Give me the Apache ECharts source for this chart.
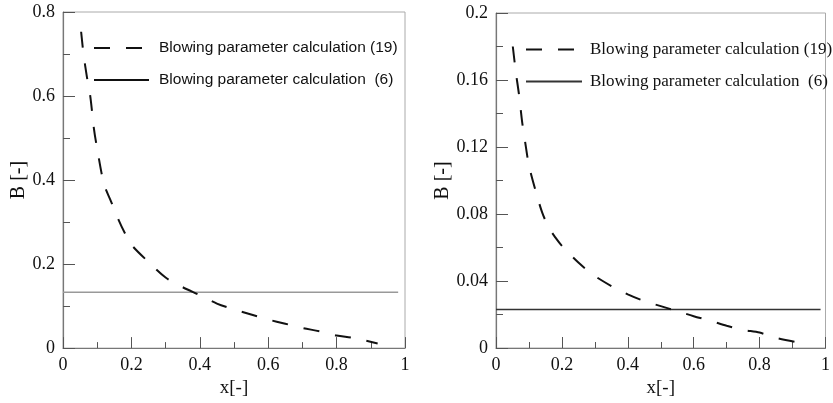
<!DOCTYPE html>
<html>
<head>
<meta charset="utf-8">
<script src="https://cdn.jsdelivr.net/npm/echarts@6/dist/echarts.min.js"></script>
<style>html,body{margin:0;padding:0;background:#fff;}#c{width:833px;height:403px;}</style>
</head>
<body>
<div id="c"></div>
<script>
// Left panel data
const leftX = [0.053,0.06,0.07,0.08,0.09,0.1,0.12,0.14,0.16,0.18,0.2,0.25,0.3,0.35,0.4,0.45,0.5,0.55,0.6,0.65,0.7,0.75,0.8,0.85,0.92];
const leftB19 = [0.753,0.70,0.645,0.598,0.525,0.474,0.39,0.35,0.31,0.275,0.246,0.205,0.168,0.145,0.126,0.106,0.092,0.08,0.068,0.058,0.048,0.04,0.03,0.024,0.011];
const leftLineX = [0, 0.98];
const leftB6 = [0.133, 0.133];
// Right panel data
const rightX = [0.051,0.06,0.07,0.08,0.09,0.1,0.12,0.14,0.16,0.18,0.2,0.25,0.3,0.35,0.4,0.45,0.5,0.55,0.6,0.65,0.7,0.75,0.8,0.85,0.94];
const rightB19 = [0.180,0.165,0.151,0.134,0.121,0.109,0.094,0.081,0.072,0.066,0.061,0.051,0.043,0.037,0.032,0.028,0.025,0.022,0.019,0.0163,0.0133,0.0108,0.0092,0.006,0.0025];
const rightLineX = [0, 0.985];
const rightB6 = [0.023, 0.023];
const legendNames = ['Blowing parameter calculation (19)', 'Blowing parameter calculation  (6)'];
const xTickLabels = ['0','0.2','0.4','0.6','0.8','1'];

const zip = (xs, ys) => xs.map((x, i) => [x, ys[i]]);
const serif = 'Liberation Serif';
const axisCol = '#777';

function xAxis(gi) {
  return {
    gridIndex: gi, type: 'value', min: 0, max: 1, interval: 0.2,
    name: 'x[-]', nameLocation: 'middle', nameGap: 27,
    nameTextStyle: {fontFamily: serif, fontSize: 19, color: '#111'},
    axisLine: {show: true, lineStyle: {color: axisCol, width: 1.2}},
    axisTick: {show: true, inside: true, length: 11, lineStyle: {color: '#555'}},
    minorTick: {show: true, splitNumber: 2, length: 6, lineStyle: {color: '#555'}},
    splitLine: {show: false},
    axisLabel: {fontFamily: serif, fontSize: 18, color: '#111', margin: 8,
      formatter: v => xTickLabels[Math.round(v / 0.2)]}
  };
}
function yAxis(gi, max, interval, gap) {
  return {
    gridIndex: gi, type: 'value', min: 0, max: max, interval: interval,
    name: 'B [-]', nameLocation: 'middle', nameGap: gap,
    nameTextStyle: {fontFamily: serif, fontSize: 20, color: '#111'},
    axisLine: {show: true, lineStyle: {color: axisCol, width: 1.2}},
    axisTick: {show: true, inside: true, length: 12, lineStyle: {color: '#555'}},
    minorTick: {show: true, splitNumber: 2, length: 7, lineStyle: {color: '#555'}},
    splitLine: {show: false},
    axisLabel: {fontFamily: serif, fontSize: 18, color: '#111', margin: 8,
      formatter: v => String(+v.toFixed(4))}
  };
}

const chart = echarts.init(document.getElementById('c'), null, {renderer: 'canvas'});
chart.setOption({
  animation: false,
  backgroundColor: '#fff',
  grid: [
    {left: 63, right: 428, top: 12, bottom: 50, show: true, borderColor: '#aaa', borderWidth: 1},
    {left: 496, right: 2, top: 13, bottom: 55, show: true, borderColor: '#aaa', borderWidth: 1}
  ],
  xAxis: [xAxis(0), xAxis(1)],
  yAxis: [yAxis(0, 0.8, 0.2, 30), yAxis(1, 0.2, 0.04, 37)],
  legend: [
    {orient: 'vertical', left: 93, top: 40, padding: 0, itemWidth: 55, itemHeight: 16, itemGap: 16,
     data: [{name: legendNames[0]}, {name: legendNames[1]}],
     itemStyle: {opacity: 0},
     lineStyle: {color: '#111'},
     textStyle: {fontFamily: 'Liberation Sans', fontSize: 15.5, color: '#111', padding: [0,0,0,5]},
     formatter: n => n, selectedMode: false},
    {orient: 'vertical', left: 525, top: 41, padding: 0, itemWidth: 56, itemHeight: 16, itemGap: 15,
     data: [{name: legendNames[0] + ' '}, {name: legendNames[1] + ' '}],
     itemStyle: {opacity: 0},
     textStyle: {fontFamily: serif, fontSize: 17, color: '#111', padding: [0,0,0,3]},
     formatter: n => n.trim(), selectedMode: false}
  ],
  series: [
    {name: legendNames[0], type: 'line', xAxisIndex: 0, yAxisIndex: 0, data: zip(leftX, leftB19),
     symbol: 'none', smooth: 0.3, lineStyle: {color: '#111', width: 2, type: [16, 16]}},
    {name: legendNames[1], type: 'line', xAxisIndex: 0, yAxisIndex: 0, data: zip(leftLineX, leftB6),
     symbol: 'none', lineStyle: {color: '#999', width: 1.5, type: 'solid'}, z: 1},
    {name: legendNames[0] + ' ', type: 'line', xAxisIndex: 1, yAxisIndex: 1, data: zip(rightX, rightB19),
     symbol: 'none', smooth: 0.3, lineStyle: {color: '#111', width: 2, type: [16, 16]}},
    {name: legendNames[1] + ' ', type: 'line', xAxisIndex: 1, yAxisIndex: 1, data: zip(rightLineX, rightB6),
     symbol: 'none', lineStyle: {color: '#333', width: 1.5, type: 'solid'}, z: 1}
  ]
});
</script>
</body>
</html>
